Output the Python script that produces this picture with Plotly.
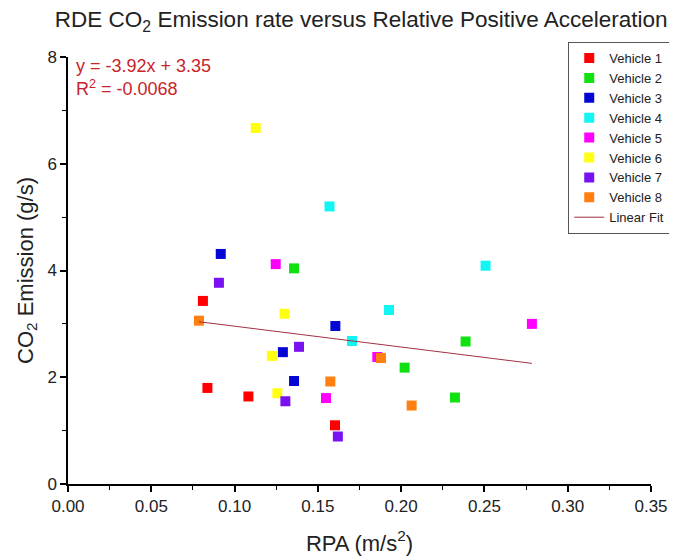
import plotly.graph_objects as go

# RPA (m/s^2) and CO2 emission (g/s) read per vehicle
vehicles = ['Vehicle 1', 'Vehicle 2', 'Vehicle 3', 'Vehicle 4',
            'Vehicle 5', 'Vehicle 6', 'Vehicle 7', 'Vehicle 8']
colors = ['#ff0000', '#11e011', '#0505d5', '#11f5f5',
          '#ff00ff', '#ffff11', '#7a11f0', '#ff8010']

rpa = [
    [0.081, 0.0837, 0.1083, 0.1603],
    [0.1357, 0.2387, 0.2021, 0.2323],
    [0.0917, 0.129, 0.1357, 0.1605],
    [0.157, 0.2507, 0.1927, 0.1705],
    [0.1247, 0.2785, 0.1857, 0.1549],
    [0.1127, 0.130, 0.1224, 0.1257],
    [0.0906, 0.1387, 0.1305, 0.162],
    [0.0786, 0.1575, 0.1879, 0.2063],
]
co2 = [
    [3.43, 1.80, 1.64, 1.10],
    [4.04, 2.67, 2.18, 1.62],
    [4.31, 2.47, 1.93, 2.96],
    [5.20, 4.09, 3.26, 2.68],
    [4.12, 3.00, 2.38, 1.61],
    [6.67, 3.19, 2.40, 1.70],
    [3.77, 2.57, 1.55, 0.89],
    [3.06, 1.92, 2.36, 1.47],
]

# linear fit endpoints as drawn
fit_x = [0.0786, 0.2785]
fit_y = [3.04, 2.26]

fig = go.Figure()

for name, c, xs, ys in zip(vehicles, colors, rpa, co2):
    fig.add_trace(go.Scatter(
        x=xs, y=ys, mode='markers', name=name,
        marker=dict(symbol='square', size=10, color=c, line=dict(width=0))
    ))

fig.add_trace(go.Scatter(
    x=fit_x, y=fit_y, mode='lines', name='Linear Fit',
    line=dict(color='#a03040', width=1)
))

# fit equation, top-left
fig.add_annotation(
    text="y = -3.92x + 3.35<br>R<sup>2</sup> = -0.0068",
    xref='paper', yref='paper', x=0.01, y=1.008,
    xanchor='left', yanchor='top', align='left', showarrow=False,
    font=dict(size=18, color='#c8242a', family='Liberation Sans')
)

# page body has an 8px margin, so the figure is sized to fit the window
fig.update_layout(
    width=669, height=550,
    title=dict(
        text="RDE CO<sub>2</sub> Emission rate versus Relative Positive Acceleration",
        x=0.528, xanchor='center', yref='container', y=0.98, yanchor='middle',
        font=dict(size=22.5, color='#222222', family='Liberation Sans')
    ),
    font=dict(family='Liberation Sans', color='#222222'),
    margin=dict(l=60, r=26, t=49, b=74, autoexpand=False),
    plot_bgcolor='white',
    paper_bgcolor='white',
    legend=dict(
        x=1.033, y=1.035, xanchor='right', yanchor='top',
        bgcolor='white', bordercolor='#555555', borderwidth=1,
        font=dict(size=13, color='#222222'),
        itemwidth=30, tracegroupgap=0
    ),
    showlegend=True
)

fig.update_xaxes(
    range=[0, 0.35], dtick=0.05, tickformat='.2f',
    showline=True, linecolor='black', linewidth=1.5,
    ticks='outside', ticklen=6, tickwidth=1.5, tickcolor='black',
    minor=dict(dtick=0.025, ticks='outside', ticklen=4, tickcolor='black', tickwidth=1.2),
    showgrid=False, zeroline=False,
    tickfont=dict(size=17),
    title=dict(text="RPA (m/s<sup>2</sup>)", font=dict(size=22), standoff=20)
)
fig.update_yaxes(
    range=[0, 8], dtick=2,
    showline=True, linecolor='black', linewidth=1.5,
    ticks='outside', ticklen=6, tickwidth=1.5, tickcolor='black',
    minor=dict(dtick=1, ticks='outside', ticklen=4, tickcolor='black', tickwidth=1.2),
    showgrid=False, zeroline=False,
    tickfont=dict(size=17),
    title=dict(text="CO<sub>2</sub> Emission (g/s)", font=dict(size=22), standoff=8)
)

fig.write_html("out.html")
